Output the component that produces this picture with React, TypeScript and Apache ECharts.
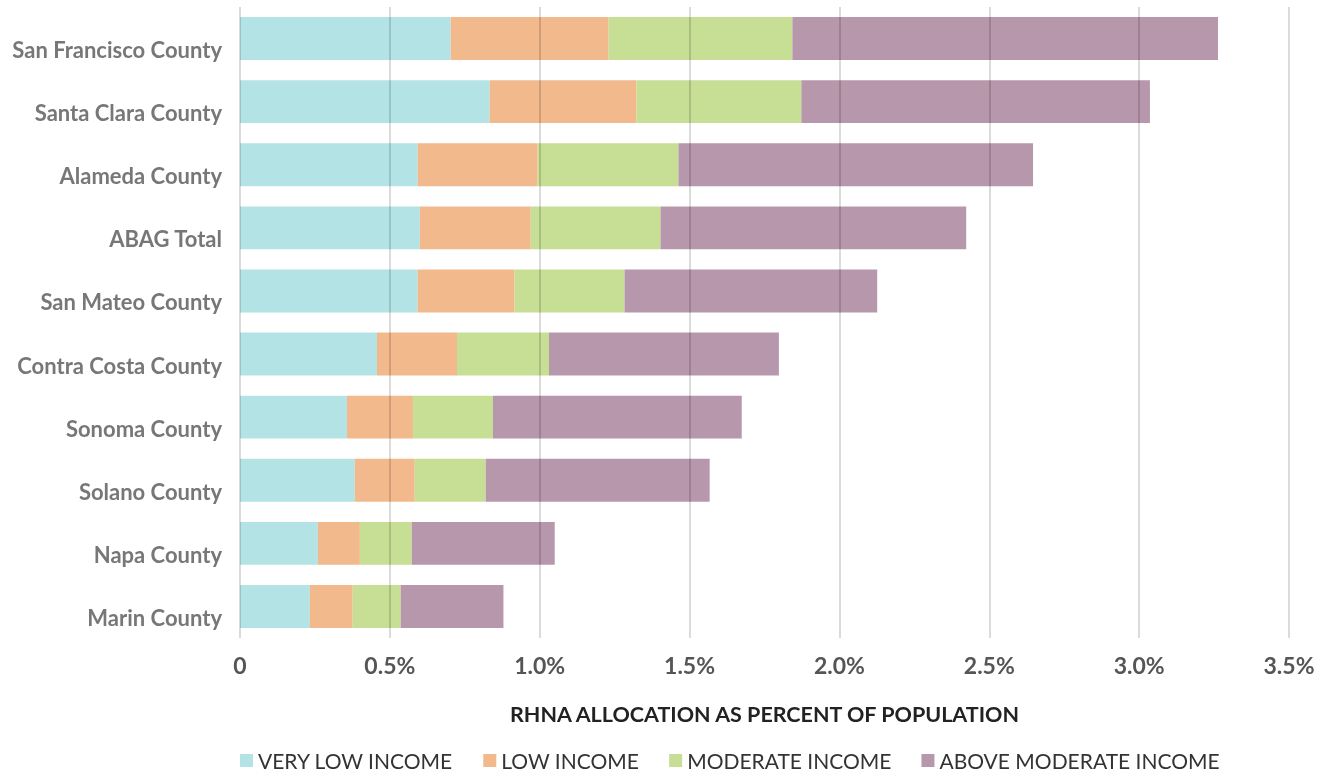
import React, { useEffect, useRef } from "react";
import * as echarts from "echarts";

const categories = [
  "San Francisco County",
  "Santa Clara County",
  "Alameda County",
  "ABAG Total",
  "San Mateo County",
  "Contra Costa County",
  "Sonoma County",
  "Solano County",
  "Napa County",
  "Marin County",
];

const veryLow = [0.703, 0.833, 0.593, 0.6, 0.593, 0.457, 0.357, 0.383, 0.26, 0.233];
const low = [0.527, 0.49, 0.4, 0.37, 0.323, 0.267, 0.22, 0.2, 0.14, 0.143];
const moderate = [0.613, 0.55, 0.47, 0.433, 0.367, 0.307, 0.267, 0.237, 0.173, 0.16];
const aboveModerate = [1.42, 1.163, 1.183, 1.02, 0.843, 0.767, 0.83, 0.747, 0.477, 0.343];

const seriesNames = ["VERY LOW INCOME", "LOW INCOME", "MODERATE INCOME", "ABOVE MODERATE INCOME"];
const colors = ["#b3e3e5", "#f2b98c", "#c7de95", "#b797ab"];

export default function App() {
  const ref = useRef<HTMLDivElement>(null);
  useEffect(() => {
    if (!ref.current) return;
    const chart = echarts.init(ref.current, null, { renderer: "svg" });
    const font = "Lato, 'Noto Sans', sans-serif";
    const data = [veryLow, low, moderate, aboveModerate];
    chart.setOption({
      animation: false,
      color: colors,
      grid: { left: 240, right: 43, top: 7, bottom: 134, containLabel: false },
      xAxis: {
        type: "value",
        min: 0,
        max: 3.5,
        interval: 0.5,
        z: 5,
        axisLine: { show: false },
        axisTick: { show: false },
        splitLine: { show: true, lineStyle: { color: "rgba(0,0,0,0.14)", width: 2 } },
        axisLabel: {
          margin: 15,
          fontFamily: font,
          fontWeight: "bold",
          fontSize: 23,
          color: "#555",
          formatter: (v: number) => (v === 0 ? "0" : v.toFixed(1) + "%"),
        },
        name: "RHNA ALLOCATION AS PERCENT OF POPULATION",
        nameLocation: "middle",
        nameGap: 65,
        nameTextStyle: {
          fontFamily: font,
          fontWeight: "bold",
          fontSize: 21.5,
          color: "#222",
        },
      },
      yAxis: {
        type: "category",
        data: categories,
        inverse: true,
        axisLine: { show: false },
        axisTick: { show: false },
        axisLabel: {
          margin: 18,
          fontFamily: font,
          fontWeight: "bold",
          fontSize: 22,
          color: "#777",
          verticalAlign: "top",
        },
      },
      legend: {
        left: 240,
        top: 750,
        padding: 0,
        icon: "rect",
        itemWidth: 13,
        itemHeight: 13,
        itemGap: 30,
        textStyle: { fontFamily: font, fontSize: 21, color: "#333" },
        data: seriesNames,
      },
      series: seriesNames.map((name, i) => ({
        name,
        type: "bar",
        stack: "total",
        barWidth: "68%",
        data: data[i],
        itemStyle: { color: colors[i] },
      })),
    });
    return () => chart.dispose();
  }, []);
  return <div ref={ref} style={{ position: "fixed", left: 0, top: 0, width: 1332, height: 772 }} />;
}
